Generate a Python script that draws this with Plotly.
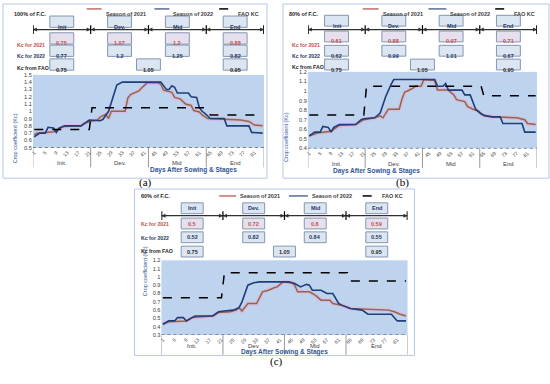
import plotly.graph_objects as go

W, H = 550, 384

# ---------------- data ----------------
DAY_TICKS = list(range(1, 85, 4))
DAY_TICK_TEXT = [str(d) for d in DAY_TICKS]
STAGE_HEADERS = ["Init", "Dev.", "Mid", "End"]
STAGE_AXIS_LABELS = ["Init.", "Dev.", "Mid", "End"]
STAGE_CENTERS = [11, 32, 53, 74]
STAGE_BOUNDS = [0.5, 21.5, 42.5, 63.5, 84.5]
ROW_LABELS = ["Kc for 2021", "Kc for 2022", "Kc from FAO"]
PANEL_TITLES = ["100% of F.C.", "80% of F.C.", "60% of F.C."]
PANEL_TAGS = ["(a)", "(b)", "(c)"]
SERIES_NAMES = ["Season of 2021", "Season of 2022", "FAO KC"]

A_KC2021 = [0.75, 1.07, 1.2, 0.88]
A_KC2022 = [0.77, 1.2, 1.25, 0.82]
B_KC2021 = [0.61, 0.88, 0.97, 0.71]
B_KC2022 = [0.62, 0.99, 1.01, 0.67]
C_KC2021 = [0.5, 0.72, 0.8, 0.59]
C_KC2022 = [0.52, 0.82, 0.84, 0.55]
FAO_KC_TABLE = [0.75, 1.05, 0.95]

# panel (a) 100% F.C.
A21_DAY = [1, 2, 8, 9, 11, 12, 18, 19, 21, 24, 25, 27, 28, 29, 34, 35, 36, 38, 39, 40, 42, 46, 47, 48, 51, 52, 54, 56, 58, 59, 61, 62, 64, 76, 79, 81, 84]
A21_KC = [0.68, 0.70, 0.72, 0.73, 0.78, 0.79, 0.80, 0.83, 0.86, 0.88, 0.92, 0.96, 0.90, 1.00, 1.00, 1.18, 1.23, 1.26, 1.28, 1.32, 1.39, 1.39, 1.37, 1.29, 1.26, 1.19, 1.17, 1.10, 1.08, 1.01, 0.99, 0.95, 0.90, 0.88, 0.86, 0.81, 0.80]
A22_DAY = [1, 3, 5, 6, 8, 9, 10, 12, 18, 20, 21, 25, 26, 28, 30, 31, 33, 47, 49, 50, 51, 52, 53, 57, 58, 60, 61, 62, 63, 65, 70, 71, 79, 80, 84]
A22_KC = [0.65, 0.70, 0.70, 0.78, 0.77, 0.71, 0.77, 0.80, 0.80, 0.86, 0.88, 0.87, 0.89, 1.00, 1.25, 1.36, 1.40, 1.40, 1.30, 1.30, 1.35, 1.33, 1.25, 1.25, 1.20, 1.19, 1.05, 1.00, 0.97, 0.90, 0.90, 0.80, 0.80, 0.71, 0.70]
A_FAO_DAY = [1, 21, 22, 63, 65, 84]
A_FAO_KC = [0.75, 0.75, 1.05, 1.05, 0.95, 0.95]

# panel (b) 80% F.C.
B21_DAY = [1, 4, 9, 12, 18, 21, 25, 27, 28, 30, 34, 35, 36, 37, 39, 40, 42, 43, 47, 48, 52, 54, 55, 58, 59, 61, 63, 65, 68, 77, 80, 81, 84]
B21_KC = [0.53, 0.56, 0.58, 0.64, 0.65, 0.70, 0.72, 0.74, 0.72, 0.81, 0.81, 0.92, 0.99, 1.00, 1.03, 1.05, 1.05, 1.12, 1.11, 1.01, 1.01, 0.96, 0.91, 0.89, 0.84, 0.81, 0.79, 0.74, 0.73, 0.72, 0.70, 0.66, 0.65]
B22_DAY = [1, 3, 5, 6, 8, 9, 10, 12, 18, 20, 21, 25, 27, 29, 31, 32, 47, 48, 50, 51, 52, 57, 58, 60, 62, 64, 66, 68, 71, 72, 79, 80, 84]
B22_KC = [0.53, 0.57, 0.57, 0.63, 0.62, 0.57, 0.62, 0.65, 0.65, 0.70, 0.71, 0.72, 0.77, 0.94, 1.07, 1.12, 1.12, 1.05, 1.05, 1.08, 1.01, 1.01, 0.96, 0.96, 0.81, 0.76, 0.74, 0.73, 0.73, 0.66, 0.66, 0.57, 0.57]
B_FAO_DAY = [1, 21, 22, 64, 65, 84]
B_FAO_KC = [0.75, 0.75, 1.05, 1.05, 0.95, 0.95]

# panel (c) 60% F.C.
C21_DAY = [1, 3, 9, 11, 18, 20, 24, 26, 27, 28, 30, 33, 35, 37, 39, 40, 42, 45, 46, 47, 51, 53, 55, 58, 59, 62, 65, 78, 80, 82, 84]
C21_KC = [0.43, 0.46, 0.47, 0.51, 0.53, 0.57, 0.58, 0.60, 0.63, 0.59, 0.68, 0.68, 0.82, 0.84, 0.87, 0.88, 0.94, 0.93, 0.90, 0.82, 0.82, 0.78, 0.72, 0.72, 0.68, 0.66, 0.62, 0.60, 0.58, 0.55, 0.53]
C22_DAY = [1, 2, 3, 5, 6, 8, 9, 11, 12, 18, 20, 22, 25, 27, 28, 30, 32, 34, 44, 46, 48, 50, 51, 52, 55, 57, 59, 61, 62, 65, 69, 71, 79, 81, 84]
C22_KC = [0.43, 0.45, 0.47, 0.47, 0.51, 0.51, 0.47, 0.51, 0.53, 0.53, 0.58, 0.59, 0.60, 0.63, 0.70, 0.90, 0.93, 0.94, 0.94, 0.92, 0.88, 0.91, 0.90, 0.84, 0.84, 0.80, 0.80, 0.68, 0.66, 0.62, 0.60, 0.55, 0.55, 0.47, 0.47]
C_FAO_DAY = [1, 21, 22, 64, 65, 84]
C_FAO_KC = [0.75, 0.75, 1.05, 1.05, 0.95, 0.95]

# ---------------- styling / geometry (pixels) ----------------
FONT = "Liberation Sans"
C21 = "#8A6B45"
C21_LEG = "#C0706A"
C21_GLOW = "rgba(238,165,220,0.55)"
C22 = "#1F3F7A"
C22_LEG = "#5A6E96"
RED = "#C0504D"
NAVY = "#1F3864"
DARK = "#262626"
BOX_FILL = "#DCE6F2"
BOX_FILL21 = "#E6E0EE"
BOX_LINE = "#8497B0"
PLOT_BG = "#BED3EE"

panels = [
    dict(tables=(A_KC2021, A_KC2022), series=(A21_DAY, A21_KC, A22_DAY, A22_KC, A_FAO_DAY, A_FAO_KC),
         x0=31, x1=263, ytop=73, ybot=147, yr=[0.5, 1.5],
         head=19, arrow=27, rows=[36, 48.5, 62.5], labs=[38, 49, 60.5], lab_x=13, title=(10, 6),
         leg_y=6, leg=[(85, 100, 102), (153, 168, 170), (218, 233, 235)],
         border=(1, 1, 266, 178), ytitle_x=8, tag=(135, 182), bw=24, bh=11.5),
    dict(tables=(B_KC2021, B_KC2022), series=(B21_DAY, B21_KC, B22_DAY, B22_KC, B_FAO_DAY, B_FAO_KC),
         x0=307, x1=537, ytop=70, ybot=147.7, yr=[0.4, 1.2],
         head=18, arrow=27, rows=[34, 48.5, 62.5], labs=[37.7, 49, 59.6], lab_x=289, title=(286, 6),
         leg_y=6, leg=[(362, 378, 380), (428, 446, 448), (495, 510, 512)],
         border=(282, 1, 549, 178), ytitle_x=285, tag=(410, 182), bw=24, bh=11),
    dict(tables=(C_KC2021, C_KC2022), series=(C21_DAY, C21_KC, C22_DAY, C22_KC, C_FAO_DAY, C_FAO_KC),
         x0=160, x1=407, ytop=261.4, ybot=337.3, yr=[0.3, 1.2],
         head=208.5, arrow=216, rows=[224, 238, 252.5], labs=[224.3, 238.3, 251.7], lab_x=137, title=(137, 196),
         leg_y=196, leg=[(218, 235, 237), (288, 307, 309), (362, 377, 379)],
         border=(133, 189, 414, 358), ytitle_x=138, tag=(276, 373), bw=22, bh=11),
]


def px(x):
    return x / W


def py(y):
    return 1 - y / H


fig = go.Figure()
shapes, annos = [], []
layout = {}

for i, p in enumerate(panels):
    n = "" if i == 0 else str(i + 1)
    xa, ya = "x" + n, "y" + n
    d21, k21, d22, k22, dF, kF = p["series"]

    fig.add_trace(go.Scatter(x=d21, y=k21, xaxis=xa, yaxis=ya, mode="lines",
                             line=dict(color=C21_GLOW, width=4), hoverinfo="skip", showlegend=False))
    fig.add_trace(go.Scatter(x=d21, y=k21, xaxis=xa, yaxis=ya, mode="lines", name=SERIES_NAMES[0],
                             line=dict(color=C21, width=1.5), showlegend=False))
    fig.add_trace(go.Scatter(x=d22, y=k22, xaxis=xa, yaxis=ya, mode="lines", name=SERIES_NAMES[1],
                             line=dict(color=C22, width=1.6), showlegend=False))
    fig.add_trace(go.Scatter(x=dF, y=kF, xaxis=xa, yaxis=ya, mode="lines", name=SERIES_NAMES[2],
                             line=dict(color="black", width=1.5, dash="dash"), showlegend=False))

    layout["xaxis" + n] = dict(domain=[px(p["x0"]), px(p["x1"])], range=[0.5, 84.5], anchor=ya,
                               tickvals=DAY_TICKS, ticktext=DAY_TICK_TEXT, tickangle=-45,
                               tickfont=dict(size=5, color="#404040", family=FONT),
                               showgrid=False, zeroline=False, showline=False, ticks="", fixedrange=True)
    layout["yaxis" + n] = dict(domain=[py(p["ybot"]), py(p["ytop"])], range=p["yr"], anchor=xa,
                               dtick=0.1, tickfont=dict(size=5.6, color="#404040", family=FONT),
                               showgrid=False, zeroline=False, showline=False, ticks="", fixedrange=True)

    # panel border
    bx0, by0, bx1, by1 = p["border"]
    shapes.append(dict(type="rect", xref="paper", yref="paper", x0=px(bx0), x1=px(bx1), y0=py(by0), y1=py(by1),
                       line=dict(color="#B4C7E7", width=1), layer="below"))
    # dotted baseline
    shapes.append(dict(type="line", xref=xa, yref=ya, x0=0.5, x1=84.5, y0=p["yr"][0], y1=p["yr"][0],
                       line=dict(color="#404040", width=1, dash="dot")))
    # stage separators below axis + stage labels
    for b in STAGE_BOUNDS:
        shapes.append(dict(type="line", xref=xa, yref="paper", x0=b, x1=b, y0=py(p["ybot"]), y1=py(p["ybot"] + 20),
                           line=dict(color="#7F7F7F", width=0.8)))
    for c, lab in zip(STAGE_CENTERS, STAGE_AXIS_LABELS):
        annos.append(dict(x=c, y=py(p["ybot"] + 16), xref=xa, yref="paper", text=lab, showarrow=False,
                          font=dict(size=6, color="#404040", family=FONT)))
    annos.append(dict(x=px((p["x0"] + p["x1"]) / 2), y=py(p["ybot"] + 23), xref="paper", yref="paper",
                      text="<b>Days After Sowing &amp; Stages</b>", showarrow=False,
                      font=dict(size=6.5, color="#2F5597", family=FONT)))
    # y title
    annos.append(dict(x=px(p["ytitle_x"]), y=py((p["ytop"] + p["ybot"]) / 2), xref="paper", yref="paper",
                      text="Crop coefficient (Kc)", textangle=-90, showarrow=False,
                      font=dict(size=5.5, color="#2F5597", family=FONT)))
    # title
    tx, ty = p["title"]
    annos.append(dict(x=px(tx), y=py(ty), xref="paper", yref="paper", xanchor="left", text="<b>" + PANEL_TITLES[i] + "</b>",
                      showarrow=False, font=dict(size=5.5, color=DARK, family=FONT)))
    # legend
    leg_cols = [C21_LEG, C22_LEG, "black"]
    for (l0, l1, tx0), name, col, k in zip(p["leg"], SERIES_NAMES, leg_cols, range(3)):
        shapes.append(dict(type="line", xref="paper", yref="paper", x0=px(l0), x1=px(l1), y0=py(p["leg_y"]), y1=py(p["leg_y"]),
                           line=dict(color=col, width=1.5, dash="dash" if k == 2 else "solid")))
        annos.append(dict(x=px(tx0), y=py(p["leg_y"]), xref="paper", yref="paper", xanchor="left", text="<b>" + name + "</b>",
                          showarrow=False, font=dict(size=5.5, color="#404040", family=FONT)))
    # tag
    gx, gy = p["tag"]
    annos.append(dict(x=px(gx), y=py(gy), xref="paper", yref="paper", text=PANEL_TAGS[i], showarrow=False,
                      font=dict(size=11, color="black", family="Liberation Serif")))

    bw, bh = p["bw"], p["bh"]
    scale = 84.0 / (p["x1"] - p["x0"])

    def box(xc, yc, text, fill, tcol, xa=xa, scale=scale, bw=bw, bh=bh):
        shapes.append(dict(type="rect", xref=xa, yref="paper", x0=xc - bw / 2 * scale, x1=xc + bw / 2 * scale,
                           y0=py(yc + bh / 2), y1=py(yc - bh / 2), fillcolor=fill,
                           line=dict(color=BOX_LINE, width=1)))
        annos.append(dict(x=xc, y=py(yc), xref=xa, yref="paper", text="<b>" + text + "</b>", showarrow=False,
                          font=dict(size=5.5, color=tcol, family=FONT)))

    for c, h in zip(STAGE_CENTERS, STAGE_HEADERS):
        box(c, p["head"], h, BOX_FILL, NAVY)
    t21, t22 = p["tables"]
    for c, v in zip(STAGE_CENTERS, t21):
        box(c, p["rows"][0], str(v), BOX_FILL21, RED)
    for c, v in zip(STAGE_CENTERS, t22):
        box(c, p["rows"][1], str(v), BOX_FILL, NAVY)
    fao_x = [STAGE_CENTERS[0], STAGE_BOUNDS[2], STAGE_CENTERS[3]]
    for c, v in zip(fao_x, FAO_KC_TABLE):
        box(c, p["rows"][2], str(v), BOX_FILL, DARK)
    # row labels
    for r, lab, col in zip(p["labs"], ROW_LABELS, [RED, NAVY, DARK]):
        annos.append(dict(x=px(p["lab_x"]), y=py(r), xref="paper", yref="paper", xanchor="left",
                          text="<b>" + lab + "</b>", showarrow=False, font=dict(size=5.2, color=col, family=FONT)))
    # arrow line with bars
    shapes.append(dict(type="line", xref=xa, yref="paper", x0=0.5, x1=84.5, y0=py(p["arrow"]), y1=py(p["arrow"]),
                       line=dict(color="#303030", width=1.2)))
    for j, b in enumerate(STAGE_BOUNDS):
        outer = j in (0, len(STAGE_BOUNDS) - 1)
        shapes.append(dict(type="line", xref=xa, yref="paper", x0=b, x1=b, y0=py(p["arrow"] - 4.5), y1=py(p["arrow"] + 4.5),
                           line=dict(color="black", width=1.8 if outer else 1.2)))
        if j > 0:
            annos.append(dict(x=b, y=py(p["arrow"]), xref=xa, yref="paper", ax=-7, ay=0, text="", showarrow=True,
                              arrowhead=2, arrowsize=0.8, arrowwidth=1, arrowcolor="#303030"))
        if j < len(STAGE_BOUNDS) - 1:
            annos.append(dict(x=b, y=py(p["arrow"]), xref=xa, yref="paper", ax=7, ay=0, text="", showarrow=True,
                              arrowhead=2, arrowsize=0.8, arrowwidth=1, arrowcolor="#303030"))

fig.update_layout(width=W, height=H, margin=dict(l=0, r=0, t=0, b=0), paper_bgcolor="white",
                  plot_bgcolor=PLOT_BG, showlegend=False, shapes=shapes, annotations=annos,
                  font=dict(family=FONT), **layout)
fig.write_html("out.html", config={"displayModeBar": False},
               post_script="document.body.style.margin='0px';")
